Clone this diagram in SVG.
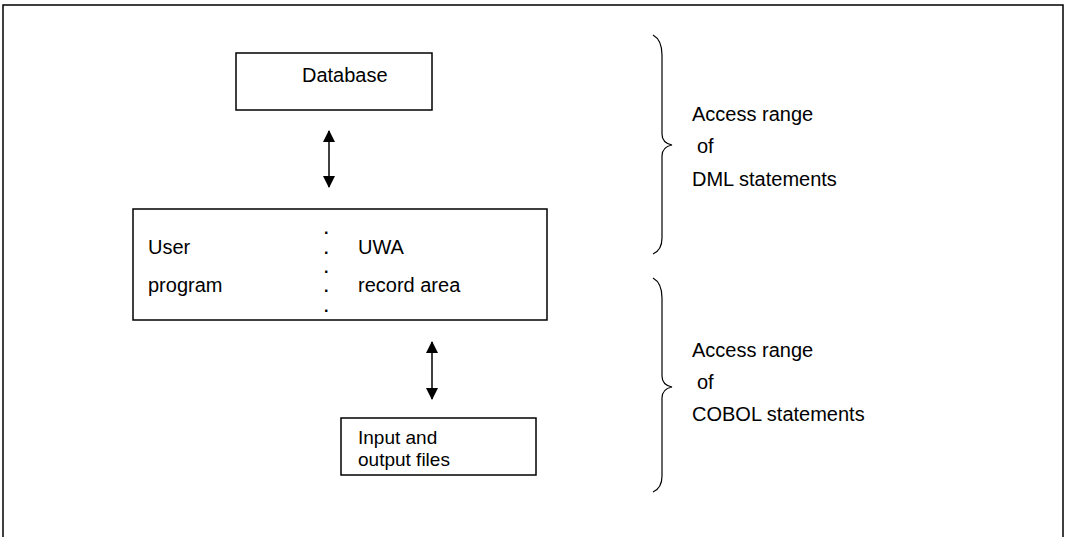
<svg xmlns="http://www.w3.org/2000/svg" width="1066" height="537" viewBox="0 0 1066 537">
<style>
.box{fill:#fff;stroke:#000;stroke-width:1.5}
.t{font-family:"Liberation Sans",Arial,sans-serif;font-size:20px;fill:#000}
.d{font-family:"Liberation Sans",Arial,sans-serif;font-size:16px;font-weight:bold;fill:#000}
.f{font-family:"Liberation Sans",Arial,sans-serif;font-size:19px;fill:#000}
.ln{stroke:#000;stroke-width:1.5;fill:none}
.br{stroke:#000;stroke-width:1.2;fill:none}
</style>
<defs>
<marker id="ah" viewBox="0 0 12 12" refX="11" refY="6" markerWidth="12" markerHeight="12" markerUnits="userSpaceOnUse" orient="auto-start-reverse">
<path d="M0,0 L12,6 L0,12 Z" fill="#000"/>
</marker>
</defs>
<rect width="1066" height="537" fill="#fff"/>
<path class="ln" d="M3,537 V5 H1063 V537"/>
<g id="database">
<rect class="box" x="236" y="53" width="196" height="57"/>
<text class="t" x="302" y="82">Database</text>
</g>
<g id="userprogram">
<rect class="box" x="133" y="209" width="414" height="111"/>
<text class="t" x="148" y="254">User</text>
<text class="t" x="148" y="292">program</text>
<text class="d" x="324" y="234">.</text>
<text class="d" x="324" y="254">.</text>
<text class="d" x="324" y="273">.</text>
<text class="d" x="324" y="292">.</text>
<text class="d" x="324" y="312">.</text>
<text class="t" x="358" y="254">UWA</text>
<text class="t" x="358" y="292">record area</text>
</g>
<g id="files">
<rect class="box" x="341" y="418" width="195" height="57"/>
<text class="f" x="358" y="444">Input and</text>
<text class="f" x="358" y="466">output files</text>
</g>
<g id="dml">
<path class="br" d="M653,35 Q662,40 662,55 V134 Q662,143 672,145 Q662,147 662,156 V238 Q662,250 653,254"/>
<text class="t" x="692" y="121">Access range</text>
<text class="t" x="697" y="153">of</text>
<text class="t" x="692" y="186">DML statements</text>
</g>
<g id="cobol">
<path class="br" d="M653,278 Q662,283 662,298 V376 Q662,385 672,387 Q662,389 662,398 V476 Q662,488 653,492"/>
<text class="t" x="692" y="357">Access range</text>
<text class="t" x="697" y="389">of</text>
<text class="t" x="692" y="421">COBOL statements</text>
</g>
<g id="connectors">
<line class="ln" x1="329" y1="131" x2="329" y2="187" marker-start="url(#ah)" marker-end="url(#ah)"/>
<line class="ln" x1="432" y1="342" x2="432" y2="399" marker-start="url(#ah)" marker-end="url(#ah)"/>
</g>
</svg>
